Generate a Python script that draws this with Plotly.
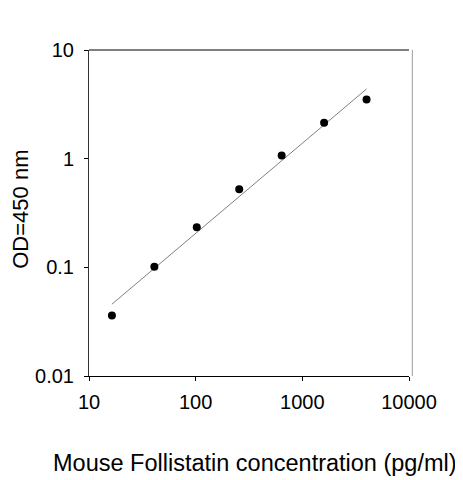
import plotly.graph_objects as go

# Data
conc = [16.4, 41, 102.4, 256, 640, 1600, 4000]
od = [0.036, 0.101, 0.234, 0.523, 1.07, 2.14, 3.5]
fit_x = [16.4, 4000]
fit_y = [0.0458, 4.38]

x_ticks = [10, 100, 1000, 10000]
x_ticktext = ["10", "100", "1000", "10000"]
y_ticks = [0.01, 0.1, 1, 10]
y_ticktext = ["0.01", "0.1", "1", "10"]

FONT = "Liberation Sans, Arial, sans-serif"

fig = go.Figure()
fig.add_trace(go.Scatter(x=fit_x, y=fit_y, mode="lines",
                         line=dict(color="#808080", width=1),
                         hoverinfo="skip", showlegend=False))
fig.add_trace(go.Scatter(x=conc, y=od, mode="markers",
                         marker=dict(color="black", size=8, symbol="circle"),
                         showlegend=False))

OFF = 8  # page body margin
W, H = 463 - OFF, 480 - OFF
L, T = 89 - OFF, 50 - OFF
pw, ph = 320, 326.5
R = W - L - pw
B = H - T - ph


def px_x(x):
    return (x - OFF - L) / pw


def px_y(y):
    return 1 - (y - OFF - T) / ph


fig.update_layout(
    width=W, height=H,
    margin=dict(l=L, r=R, t=T, b=B, pad=0),
    plot_bgcolor="white", paper_bgcolor="white",
    font=dict(family=FONT, color="black", size=20),
    xaxis=dict(type="log", range=[1, 4], tickvals=x_ticks, ticktext=x_ticktext,
               showgrid=False, zeroline=False, showline=True, linecolor="black",
               linewidth=1, ticks="outside", ticklen=4, tickcolor="black",
               tickfont=dict(size=20), ticklabelstandoff=4),
    yaxis=dict(type="log", range=[-2, 1], tickvals=y_ticks, ticktext=y_ticktext,
               showgrid=False, zeroline=False, showline=True, linecolor="#333333",
               linewidth=1, ticks="outside", ticklen=4, tickcolor="black",
               tickfont=dict(size=20), ticklabelstandoff=6),
    shapes=[
        dict(type="line", xref="paper", yref="paper", x0=0, x1=1, y0=1, y1=1,
             line=dict(color="black", width=1)),
        dict(type="line", xref="paper", yref="paper", x0=1 + 3.3 / pw, x1=1 + 3.3 / pw,
             y0=0, y1=1, line=dict(color="#9a9a9a", width=1)),
    ],
    annotations=[
        dict(text="Mouse Follistatin concentration (pg/ml)", xref="paper", yref="paper",
             x=px_x(255), y=px_y(464), xanchor="center", yanchor="middle",
             showarrow=False, font=dict(size=23.5, family=FONT)),
        dict(text="OD=450 nm", xref="paper", yref="paper", textangle=-90,
             x=px_x(21), y=px_y(210), xanchor="center", yanchor="middle",
             showarrow=False, font=dict(size=22, family=FONT)),
    ],
)

fig.write_html("out.html")
